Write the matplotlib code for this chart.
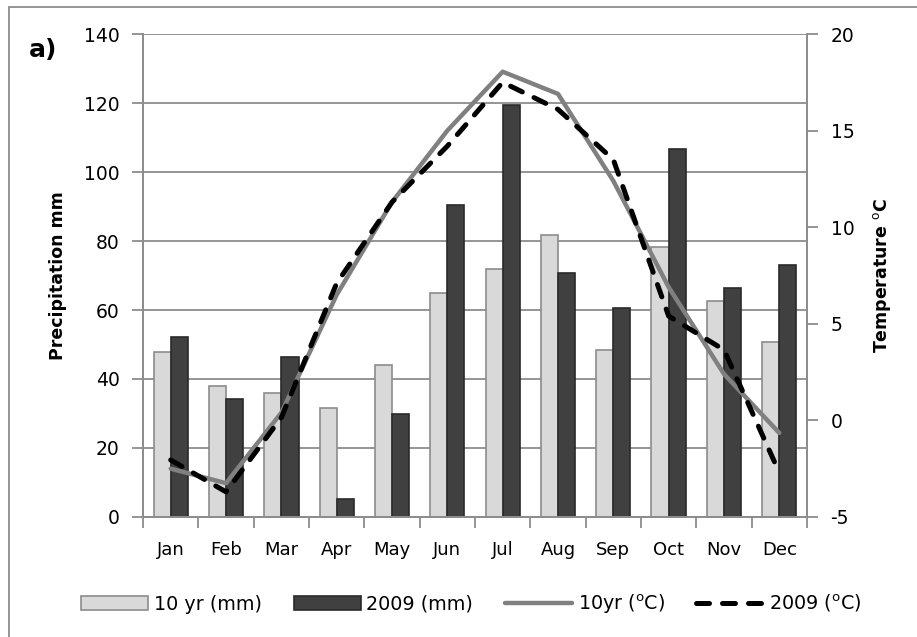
import numpy as np
import matplotlib.pyplot as plt
from matplotlib.patches import Rectangle

# data
months = ['Jan', 'Feb', 'Mar', 'Apr', 'May', 'Jun', 'Jul', 'Aug', 'Sep', 'Oct', 'Nov', 'Dec']
precip_10yr = [47.9, 38.0, 35.8, 31.5, 44.0, 64.8, 71.9, 81.7, 48.4, 78.3, 62.7, 50.6]
precip_2009 = [52.3, 34.3, 46.3, 5.3, 29.9, 90.4, 119.4, 70.8, 60.5, 106.8, 66.5, 73.0]
temp_10yr = [-2.5, -3.25, 0.4, 6.5, 11.3, 15.0, 18.05, 16.9, 12.4, 6.9, 2.4, -0.65]
temp_2009 = [-2.05, -3.7, 0.15, 7.1, 11.3, 14.2, 17.5, 16.1, 13.5, 5.4, 3.65, -2.7]

plt.rcParams['font.family'] = 'DejaVu Sans'
plt.rcParams['axes.unicode_minus'] = False
grid_col = '#8c8c8c'

fig = plt.figure(figsize=(9.17, 6.37), dpi=100)
ax = fig.add_axes([0.156, 0.1884, 0.724, 0.7582])
ax2 = ax.twinx()

x = np.arange(len(months))
w = 0.31
ax.bar(x - w / 2, precip_10yr, w, color='#d9d9d9', edgecolor='#8c8c8c', linewidth=1.2,
       label='10 yr (mm)', zorder=2)
ax.bar(x + w / 2, precip_2009, w, color='#404040', edgecolor='#2a2a2a', linewidth=1.2,
       label='2009 (mm)', zorder=2)

ax2.plot(x, temp_10yr, color='#808080', lw=3.2, solid_capstyle='round',
         label='10yr ($^{\\mathrm{o}}$C)')
ax2.plot(x, temp_2009, color='black', lw=3.6, dashes=(2.6, 2.6), dash_capstyle='round',
         label='2009 ($^{\\mathrm{o}}$C)')

# left axis
ax.set_xlim(-0.5, 11.5)
ax.set_ylim(0, 140)
ax.set_yticks(range(0, 141, 20))
ax.yaxis.grid(True, color=grid_col, lw=1.3, zorder=0)
ax.set_axisbelow(True)
ax.set_ylabel('Precipitation mm', fontsize=12.5, fontweight='bold', labelpad=12)

# right axis
ax2.set_ylim(-5, 20)
ax2.set_yticks(range(-5, 21, 5))
ax2.set_ylabel('Temperature $^{\\mathrm{o}}$C', fontsize=12.5, fontweight='bold', labelpad=12)

# month labels centred, tick marks between months
ax.set_xticks(x)
ax.set_xticklabels(months)
ax.set_xticks(np.arange(-0.5, 12, 1), minor=True)
ax.tick_params(axis='x', which='major', length=0, pad=17, labelsize=13)
ax.tick_params(axis='x', which='minor', length=8, width=1.3, color=grid_col)
ax.tick_params(axis='y', length=8, width=1.3, color=grid_col, pad=9, labelsize=13.5)
ax2.tick_params(axis='y', length=8, width=1.3, color=grid_col, pad=9, labelsize=13.5)

for a in (ax, ax2):
    for s in a.spines.values():
        s.set_color(grid_col)
        s.set_linewidth(1.3)
    a.spines['top'].set_visible(False)

fig.text(0.032, 0.91, 'a)', fontsize=18, fontweight='bold')

h1, l1 = ax.get_legend_handles_labels()
h2, l2 = ax2.get_legend_handles_labels()
fig.legend(h1 + h2, l1 + l2, loc='center', bbox_to_anchor=(0.514, 0.052), ncol=4,
           frameon=False, fontsize=13.8, handlelength=3.5, handleheight=0.8,
           handletextpad=0.3, columnspacing=1.65)

# outer border of the chart (only left and top edges are inside the image)
fig.patches.append(Rectangle((0.0098, -0.1), 1.2, 1.089, transform=fig.transFigure,
                             fill=False, edgecolor='#8c8c8c', lw=1.3))

fig.savefig('out.png', dpi=100)
